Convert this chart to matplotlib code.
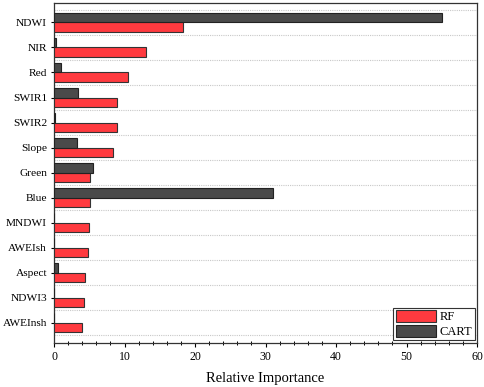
import matplotlib
matplotlib.use("Agg")
import matplotlib.pyplot as plt
import numpy as np
from matplotlib.ticker import MultipleLocator

categories = ["NDWI", "NIR", "Red", "SWIR1", "SWIR2", "Slope", "Green", "Blue",
              "MNDWI", "AWEIsh", "Aspect", "NDWI3", "AWEInsh"]
rf = [18.3, 13.0, 10.5, 9.0, 9.0, 8.3, 5.1, 5.1, 4.9, 4.85, 4.35, 4.25, 4.0]
cart = [55.1, 0.25, 0.95, 3.45, 0.2, 3.3, 5.5, 31.0, 0.0, 0.0, 0.6, 0.0, 0.0]

plt.rcParams['font.family'] = ['Liberation Serif', 'DejaVu Serif']

fig = plt.figure(figsize=(4.84, 3.87), dpi=100)
ax = fig.add_axes([0.1116, 0.1137, 0.874, 0.879])

y = np.arange(len(categories))
h = 0.38
ax.barh(y + h / 2, rf, height=h, color='#ff3a3f', edgecolor='#333333', linewidth=0.8, label='RF', zorder=3)
ax.barh(y - h / 2, cart, height=h, color='#4a4a4a', edgecolor='#222222', linewidth=0.8, label='CART', zorder=3)

for g in np.arange(-0.5, len(categories), 1.0):
    ax.axhline(g, color='#c8c8c8', linestyle=(0, (1, 1)), linewidth=0.8, zorder=1)

ax.set_yticks(y)
ax.set_yticklabels(categories, fontsize=8.2)
ax.set_ylim(len(categories) - 1 + 0.8, -0.78)
ax.set_xlim(0, 60)
ax.xaxis.set_major_locator(MultipleLocator(10))
ax.xaxis.set_minor_locator(MultipleLocator(2))
ax.tick_params(axis='x', which='major', direction='out', length=3, labelsize=8.5, width=0.8, pad=3)
ax.tick_params(axis='x', which='minor', direction='inout', length=3, width=0.7)
ax.tick_params(axis='y', which='major', direction='out', length=2.5, width=0.8, pad=2.5)
ax.set_xlabel('Relative Importance', fontsize=10.5, labelpad=6)

for s in ax.spines.values():
    s.set_color('#333333')
    s.set_linewidth(0.9)

leg = ax.legend(loc='lower right', fontsize=9, frameon=True, fancybox=False,
                edgecolor='#333333', framealpha=1, handlelength=3.2, handleheight=1.1,
                borderpad=0.2, labelspacing=0.1, handletextpad=0.3, borderaxespad=0.2)
leg.get_frame().set_linewidth(0.8)

fig.savefig('out.png', dpi=100)
